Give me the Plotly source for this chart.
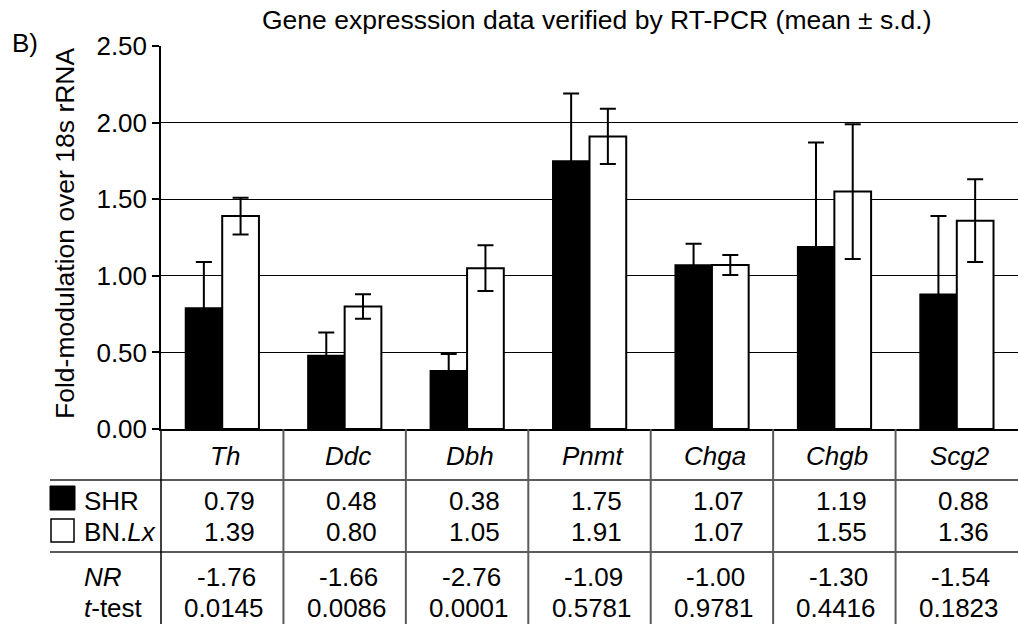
import plotly.graph_objects as go

genes = ["Th", "Ddc", "Dbh", "Pnmt", "Chga", "Chgb", "Scg2"]
shr = [0.79, 0.48, 0.38, 1.75, 1.07, 1.19, 0.88]
shr_sd = [0.30, 0.15, 0.11, 0.44, 0.14, 0.68, 0.51]
bn = [1.39, 0.80, 1.05, 1.91, 1.07, 1.55, 1.36]
bn_sd = [0.12, 0.08, 0.15, 0.18, 0.065, 0.44, 0.27]
shr_txt = ["0.79", "0.48", "0.38", "1.75", "1.07", "1.19", "0.88"]
bn_txt = ["1.39", "0.80", "1.05", "1.91", "1.07", "1.55", "1.36"]
nr_txt = ["-1.76", "-1.66", "-2.76", "-1.09", "-1.00", "-1.30", "-1.54"]
tt_txt = ["0.0145", "0.0086", "0.0001", "0.5781", "0.9781", "0.4416", "0.1823"]
yticks = [0, 0.5, 1.0, 1.5, 2.0, 2.5]

FONT = "Liberation Sans, Arial, sans-serif"
W, H = 1018, 624
ML, MR, MT, MB = 161, 0, 46, 195
PH = H - MT - MB
PW = W - ML - MR


def py(p):
    return (H - MB - p) / PH


def px(p):
    return (p - ML) / PW


fig = go.Figure()
fig.add_trace(go.Bar(
    x=genes, y=shr, name="SHR",
    marker=dict(color="black", line=dict(color="black", width=1.5)),
    error_y=dict(type="data", array=shr_sd, color="black", thickness=2, width=8),
))
fig.add_trace(go.Bar(
    x=genes, y=bn, name="BN.Lx",
    marker=dict(color="white", line=dict(color="black", width=2)),
    error_y=dict(type="data", array=bn_sd, color="black", thickness=2, width=8),
))

fig.update_layout(
    width=W, height=H,
    margin=dict(l=ML, r=MR, t=MT, b=MB),
    plot_bgcolor="white", paper_bgcolor="white",
    barmode="group", bargap=0.4, bargroupgap=0,
    showlegend=False,
    font=dict(family=FONT, size=26, color="black"),
)
fig.update_xaxes(showticklabels=False, showline=True, linecolor="black",
                 linewidth=1.5, ticks="", showgrid=False)
fig.update_yaxes(range=[0, 2.5], tickvals=yticks, tickformat=".2f",
                 showline=True, linecolor="black", linewidth=1.5,
                 ticks="outside", ticklen=7, tickwidth=1.5, tickcolor="black",
                 showgrid=True, gridcolor="black", gridwidth=1.2,
                 tickfont=dict(size=26), zeroline=False)

ann = []
ann.append(dict(text="Gene expresssion data verified by RT-PCR (mean \u00b1 s.d.)",
                x=px(596), y=py(20), xref="paper", yref="paper",
                showarrow=False, font=dict(size=26.5), xanchor="center", yanchor="middle"))
ann.append(dict(text="B)", x=px(10), y=py(43), xref="paper", yref="paper",
                showarrow=False, font=dict(size=26), xanchor="left", yanchor="middle"))
ann.append(dict(text="Fold-modulation over 18s rRNA", x=px(65), y=py(234),
                xref="paper", yref="paper", textangle=-90, showarrow=False,
                font=dict(size=26.5), xanchor="center", yanchor="middle"))

rows = [(py(501), shr_txt, 7), (py(532), bn_txt, 7),
        (py(577), nr_txt, 4), (py(608), tt_txt, 2)]
for i, g in enumerate(genes):
    ann.append(dict(text="<i>%s</i>" % g, x=g, xref="x", y=py(456), yref="paper",
                    showarrow=False, xshift=3, yanchor="middle", font=dict(size=26)))
    for yy, arr, sh in rows:
        ann.append(dict(text=arr[i], x=g, xref="x", y=yy, yref="paper",
                        showarrow=False, xshift=sh, yanchor="middle", font=dict(size=26)))

for txt, yy in (("SHR", 501), ("BN.<i>Lx</i>", 532), ("<i>NR</i>", 577), ("<i>t</i>-test", 608)):
    ann.append(dict(text=txt, x=px(82), y=py(yy), xref="paper", yref="paper",
                    showarrow=False, xanchor="left", yanchor="middle", font=dict(size=26)))
fig.update_layout(annotations=ann)

shapes = []
gray = "#5a5a5a"
for yy in (480, 552):
    shapes.append(dict(type="line", xref="paper", yref="paper", x0=px(50), x1=1,
                       y0=py(yy), y1=py(yy), line=dict(color=gray, width=2)))
shapes.append(dict(type="line", xref="paper", yref="paper", x0=0, x1=0,
                   y0=0, y1=py(H), line=dict(color="black", width=1.5)))
for k in range(1, len(genes)):
    shapes.append(dict(type="line", xref="x", yref="paper", x0=k - 0.5, x1=k - 0.5,
                       y0=0, y1=py(H), line=dict(color=gray, width=2)))
shapes.append(dict(type="rect", xref="paper", yref="paper", x0=px(50), x1=px(75),
                   y0=py(486), y1=py(510), fillcolor="black", line=dict(color="black", width=1)))
shapes.append(dict(type="rect", xref="paper", yref="paper", x0=px(51), x1=px(74),
                   y0=py(519), y1=py(542), fillcolor="white", line=dict(color="black", width=1.5)))
fig.update_layout(shapes=shapes)

fig.write_html("out.html")
